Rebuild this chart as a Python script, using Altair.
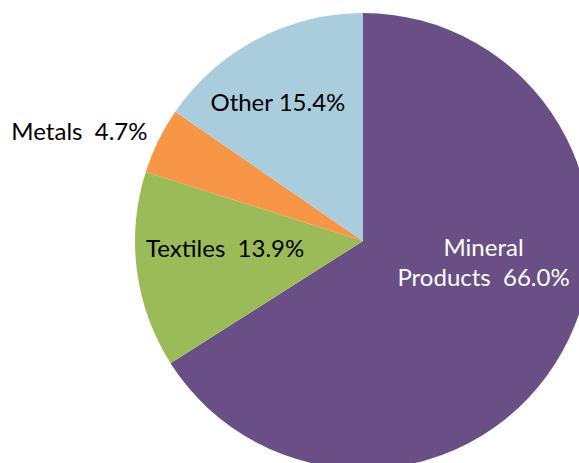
import altair as alt
import pandas as pd

# Export shares by product group (percent)
categories = ["Mineral Products", "Textiles", "Metals", "Other"]
shares = [66.0, 13.9, 4.7, 15.4]
colors = ["#6a4f86", "#9bbb59", "#f79646", "#a9cddc"]

df = pd.DataFrame({"category": categories, "share": shares, "rank": list(range(len(categories)))})

CX, CY, R = 363, 241, 228
FONT = "Lato"
SIZE = 24
GAP = " \u00a0"  # double gap that survives SVG whitespace collapsing

base = alt.Chart(df).encode(
    theta=alt.Theta("share:Q", stack=True),
    order=alt.Order("rank:Q"),
    x=alt.value(CX),
    y=alt.value(CY),
)

pie = base.mark_arc(outerRadius=R).encode(
    color=alt.Color("category:N", scale=alt.Scale(domain=categories, range=colors), legend=None)
)


def slice_label(cat, expr, radius, dx=0, dy=0, color="#000000", align="center"):
    return base.transform_calculate(
        txt=f"datum.category == '{cat}' ? {expr} : ''"
    ).mark_text(
        radius=radius, dx=dx, dy=dy, font=FONT, fontSize=SIZE, color=color,
        align=align, baseline="middle", lineBreak="|", lineHeight=30,
    ).encode(text="txt:N")


pct = "format(datum.share, '.1f') + '%'"
labels = [
    slice_label("Mineral Products", f"'Mineral|Products{GAP}' + {pct}", 125, dx=11, dy=-52, color="#ffffff"),
    slice_label("Textiles", f"'Textiles{GAP}' + {pct}", 139, dy=-9),
    slice_label("Metals", f"'Metals{GAP}' + {pct}", 240, dy=-2, align="right"),
    slice_label("Other", f"'Other ' + {pct}", 155, dx=-13),
]

chart = alt.layer(pie, *labels).properties(
    width=579, height=463, padding=0, autosize="none", background="#ffffff"
).configure_view(stroke=None)

chart.save("out.html", embed_options={"renderer": "svg", "actions": False})
